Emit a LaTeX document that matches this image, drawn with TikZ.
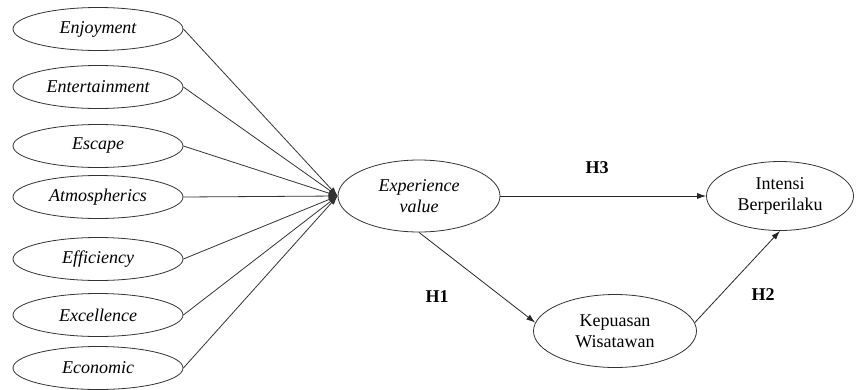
\documentclass[tikz,border=0pt]{standalone}
\usepackage{fontspec}
\setmainfont{Liberation Serif}
\usetikzlibrary{shapes.geometric,arrows.meta}
\begin{document}
\begin{tikzpicture}[x=1pt,y=-1pt,
  every node/.style={font=\fontsize{18}{21}\selectfont},
  dim/.style={ellipse,draw=black!80,line width=0.8pt,minimum width=170pt,minimum height=43pt,inner sep=0pt,font=\fontsize{18}{21}\selectfont\itshape},
  construct/.style={ellipse,draw=black!80,line width=0.8pt,inner sep=0pt,align=center},
  feed/.style={draw=black!80,line width=0.8pt,-{Latex[length=9pt,width=6pt]}},
  path/.style={draw=black!85,line width=0.8pt,-{Latex[length=9pt,width=6pt]}},
  hyp/.style={font=\fontsize{18}{21}\selectfont\bfseries}]
\useasboundingbox (0,0) rectangle (856,389);
\node[dim] (d1) at (98,29) {Enjoyment};
\node[dim] (d2) at (98,87) {Entertainment};
\node[dim] (d3) at (98,146) {Escape};
\node[dim] (d4) at (98,197) {Atmospherics};
\node[dim] (d5) at (98,259) {Efficiency};
\node[dim] (d6) at (98,315) {Excellence};
\node[dim] (d7) at (98,368) {Economic};
\node[construct,minimum width=162pt,minimum height=72pt,font=\fontsize{18}{21}\selectfont\itshape] (ev) at (419,196) {Experience\\value};
\node[construct,minimum width=147pt,minimum height=69pt] (ib) at (780,196) {Intensi\\Berperilaku};
\node[construct,minimum width=163pt,minimum height=73pt] (kp) at (615,331) {Kepuasan\\Wisatawan};
\foreach \i in {1,...,7} {\draw[feed] (d\i.east) -- (ev.west);}
\draw[path] (ev.east) -- (ib.west);
\draw[path] (ev.south) -- (kp.174);
\draw[path] (kp.6) -- (ib.south);
\node[hyp] (h3) at (597,168) {H3};
\node[hyp] (h1) at (437,297) {H1};
\node[hyp] (h2) at (763,295) {H2};
\end{tikzpicture}
\end{document}
